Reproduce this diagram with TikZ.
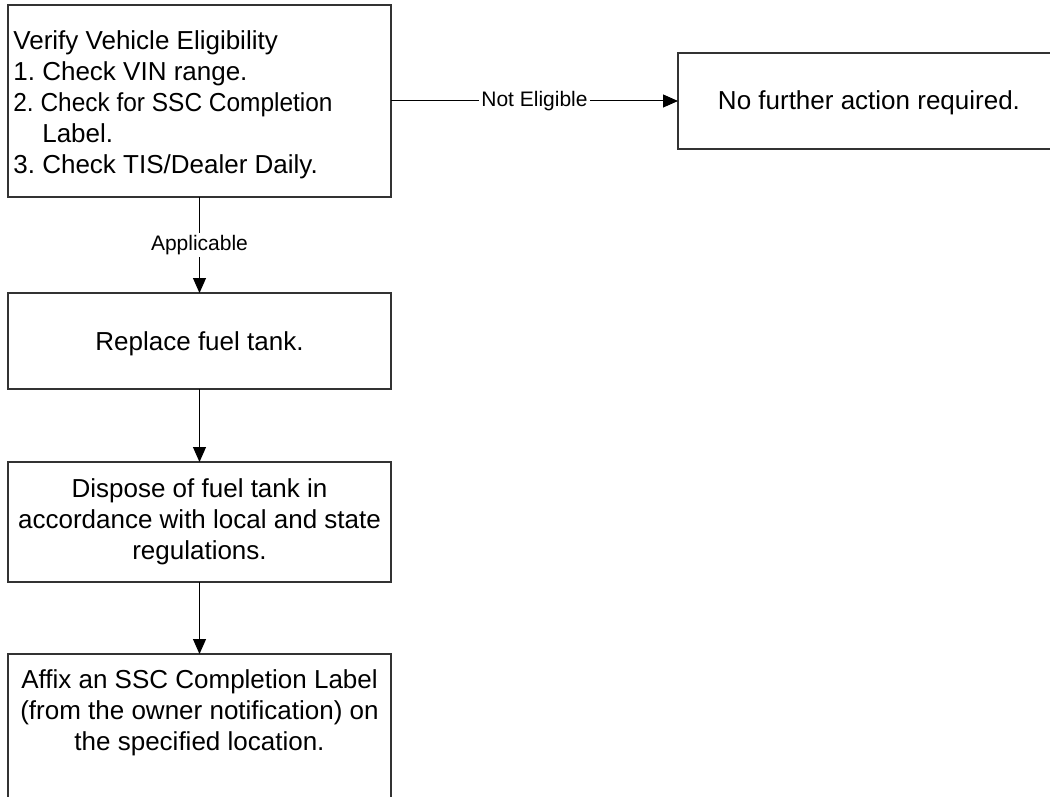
\documentclass[tikz,border=0pt]{standalone}
\usepackage{fontspec}
\setmainfont{Liberation Sans}
\usetikzlibrary{arrows.meta}
\begin{document}
\frenchspacing
\begin{tikzpicture}[x=0.5pt,y=-0.5pt,
  box/.style={draw=black!80,line width=0.7pt,rectangle,inner sep=2.5pt,outer sep=0pt,
    font=\fontsize{13}{15.5}\selectfont,minimum width=191.5pt},
  txt/.style={inner sep=0pt,align=center,font=\fontsize{13}{15.5}\selectfont},
  lbl/.style={fill=white,inner sep=1pt,font=\fontsize{10.5}{12}\selectfont},
  arr/.style={draw=black,line width=0.5pt,-{Triangle[length=7.5pt,width=6.5pt]}}]
\useasboundingbox (0,0) rectangle (1050,797);
\begin{scope}
\clip (0,0) rectangle (1050,797);
\node[box,minimum height=96pt] (b1) at (199.5,101) {};
\node[txt,align=left,anchor=west] (b1t) at (13,105)
  {Verify Vehicle Eligibility\\1. Check VIN range.\\\scalebox{0.94}[1]{2. Check for SSC Completion}\\\phantom{2. }Label.\\3. Check TIS/Dealer Daily.};
\node[box,minimum width=250pt,minimum height=48pt,anchor=north west] (nf) at (678,53) {};
\node[txt] (nft) at (869,103) {No further action required.};
\node[box,minimum height=48pt] (b2) at (199.5,341) {};
\node[txt] (b2t) at (199.5,344) {Replace fuel tank.};
\node[box,minimum height=60pt,align=center] (b3) at (199.5,522)
  {Dispose of fuel tank in\\accordance with local and state\\regulations.};
\node[box,minimum height=90pt,anchor=north] (b4) at (199.5,654) {};
\node[txt] (b4t) at (199.5,713) {Affix an SSC Completion Label\\(from the owner notification) on\\the specified location.};
\draw[arr] (b1.east) -- node[lbl] (ne) {Not Eligible} (b1.east -| nf.west);
\draw[arr] (b1.south) -- node[lbl] (ap) {Applicable} (b2.north);
\draw[arr] (b2.south) -- (b3.north);
\draw[arr] (b3.south) -- (b4.north);
\end{scope}
\end{tikzpicture}
\end{document}
